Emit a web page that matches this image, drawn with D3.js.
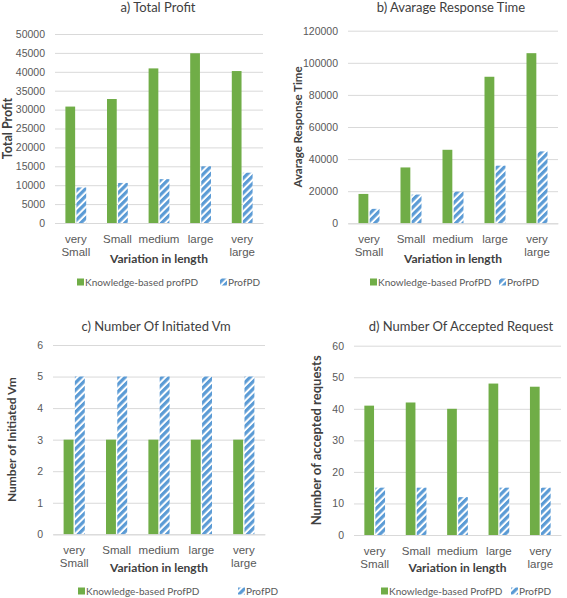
<!DOCTYPE html>
<html><head><meta charset="utf-8">
<script src="https://cdn.jsdelivr.net/npm/d3@7"></script>
<style>
body{margin:0;background:#fff;}
svg{display:block;font-family:Lato,"Open Sans",sans-serif;}
</style></head>
<body><svg id="c" width="567" height="598"></svg>
<script>
// ---- data ----
const categories = [["very","Small"],["Small"],["medium"],["large"],["very","large"]];
const profitKB = [30800, 32800, 40900, 44900, 40200];
const profitPD = [9400, 10600, 11600, 15000, 13300];
const responseKB = [18300, 34800, 45800, 91300, 106000];
const responsePD = [9000, 17900, 19700, 35900, 44800];
const vmKB = [3, 3, 3, 3, 3];
const vmPD = [5, 5, 5, 5, 5];
const acceptedKB = [41, 42, 40, 48, 47];
const acceptedPD = [15, 15, 12, 15, 15];
const ticksA = [0,5000,10000,15000,20000,25000,30000,35000,40000,45000,50000];
const ticksB = [0,20000,40000,60000,80000,100000,120000];
const ticksC = [0,1,2,3,4,5,6];
const ticksD = [0,10,20,30,40,50,60];
const titles = ["a) Total Profit","b) Avarage Response Time","c) Number Of Initiated Vm","d) Number Of Accepted Request"];
const yTitles = ["Total Profit","Avarage Response Time","Number of Initiated Vm","Number of accepted  requests"];
const xTitle = "Variation in length";
const legendKB = ["Knowledge-based profPD","Knowledge-based ProfPD","Knowledge-based ProfPD","Knowledge-based ProfPD"];
const legendPD = "ProfPD";

// ---- layout ----
const panels = [
  {kb:profitKB, pd:profitPD, ticks:ticksA, max:50000, l:55, r:263, t:34, b:223, titleX:158, titleY:12, yLabX:12, yLabSize:12.5, leg1:77, leg2:220, off:0},
  {kb:responseKB, pd:responsePD, ticks:ticksB, max:120000, l:348, r:558, t:30.7, b:223.3, titleX:451, titleY:12, yLabX:302, yLabSize:11.5, leg1:370, leg2:499, off:0},
  {kb:vmKB, pd:vmPD, ticks:ticksC, max:6, l:53, r:265, t:345, b:534.3, titleX:156, titleY:331, yLabX:16, yLabSize:12, leg1:78, leg2:238, off:309},
  {kb:acceptedKB, pd:acceptedPD, ticks:ticksD, max:60, l:354, r:561, t:345.7, b:535, titleX:461, titleY:331, yLabX:321, yLabSize:13, leg1:381, leg2:511, off:309}
];
const GREEN = "#70ad47", BLUE = "#5b9bd5", GRID = "#d9d9d9", TXT = "#595959", DARK = "#404040";

const svg = d3.select("#c");
const defs = svg.append("defs");
const pat = defs.append("pattern").attr("id","hatch").attr("patternUnits","userSpaceOnUse")
  .attr("width",5.2).attr("height",5.2).attr("patternTransform","rotate(45)");
pat.append("rect").attr("width",5.2).attr("height",5.2).attr("fill","#fff");
pat.append("rect").attr("width",3.2).attr("height",5.2).attr("fill",BLUE);

const series = ["kb","pd"];
panels.forEach((p,i)=>{
  const g = svg.append("g");
  const catIdx = d3.range(categories.length);
  const x0 = d3.scaleBand().domain(catIdx).range([p.l,p.r]).paddingInner(0.5).paddingOuter(0.25);
  const x1 = d3.scaleBand().domain(series).range([0,x0.bandwidth()]).paddingInner(0.12);
  const y = d3.scaleLinear().domain([0,p.max]).range([p.b,p.t]);

  // grid + y axis
  const ya = g.append("g").attr("transform",`translate(${p.l},0)`)
    .call(d3.axisLeft(y).tickValues(p.ticks).tickFormat(d3.format("d")).tickSize(-(p.r-p.l)).tickPadding(10));
  ya.select(".domain").remove();
  ya.selectAll("line").attr("stroke",GRID).attr("stroke-width",1);
  ya.selectAll("text").attr("fill",TXT).attr("font-size",10.5);

  // bars
  catIdx.forEach(ci=>{
    g.append("rect").attr("x",x0(ci)+x1("kb")).attr("width",x1.bandwidth())
      .attr("y",y(p.kb[ci])).attr("height",y(0)-y(p.kb[ci])).attr("fill",GREEN);
    g.append("rect").attr("x",x0(ci)+x1("pd")).attr("width",x1.bandwidth())
      .attr("y",y(p.pd[ci])).attr("height",y(0)-y(p.pd[ci])).attr("fill","url(#hatch)");
  });

  // x axis
  const xa = g.append("g").attr("transform",`translate(0,${p.b})`)
    .call(d3.axisBottom(x0).tickSize(0).tickFormat(""));
  xa.select(".domain").attr("stroke",GRID);
  xa.selectAll(".tick").each(function(ci){
    const t = d3.select(this).append("text").attr("fill",TXT).attr("font-size",11.5)
      .attr("text-anchor","middle").attr("y",20);
    categories[ci].forEach((s,k)=>t.append("tspan").attr("x",0).attr("dy",k?13:0).text(s));
  });

  // titles
  g.append("text").attr("x",p.titleX).attr("y",p.titleY).attr("text-anchor","middle")
    .attr("font-size",13).attr("fill",DARK).text(titles[i]);
  g.append("text").attr("transform",`translate(${p.yLabX},${(p.t+p.b)/2}) rotate(-90)`)
    .attr("text-anchor","middle").attr("font-size",p.yLabSize).attr("font-weight","bold").attr("fill",DARK)
    .text(yTitles[i]);
  g.append("text").attr("x",(p.l+p.r)/2).attr("y",263+p.off).attr("text-anchor","middle")
    .attr("font-size",12).attr("font-weight","bold").attr("fill",DARK).text(xTitle);

  // legend
  const ly = 282+p.off;
  g.append("rect").attr("x",p.leg1).attr("y",ly-3.5).attr("width",7).attr("height",7).attr("fill",GREEN);
  g.append("text").attr("x",p.leg1+8).attr("y",ly+3.5).attr("font-size",10).attr("fill",TXT).text(legendKB[i]);
  g.append("rect").attr("x",p.leg2).attr("y",ly-3.5).attr("width",7).attr("height",7).attr("fill","url(#hatch)");
  g.append("text").attr("x",p.leg2+8).attr("y",ly+3.5).attr("font-size",10).attr("fill",TXT).text(legendPD);
});
</script></body></html>
